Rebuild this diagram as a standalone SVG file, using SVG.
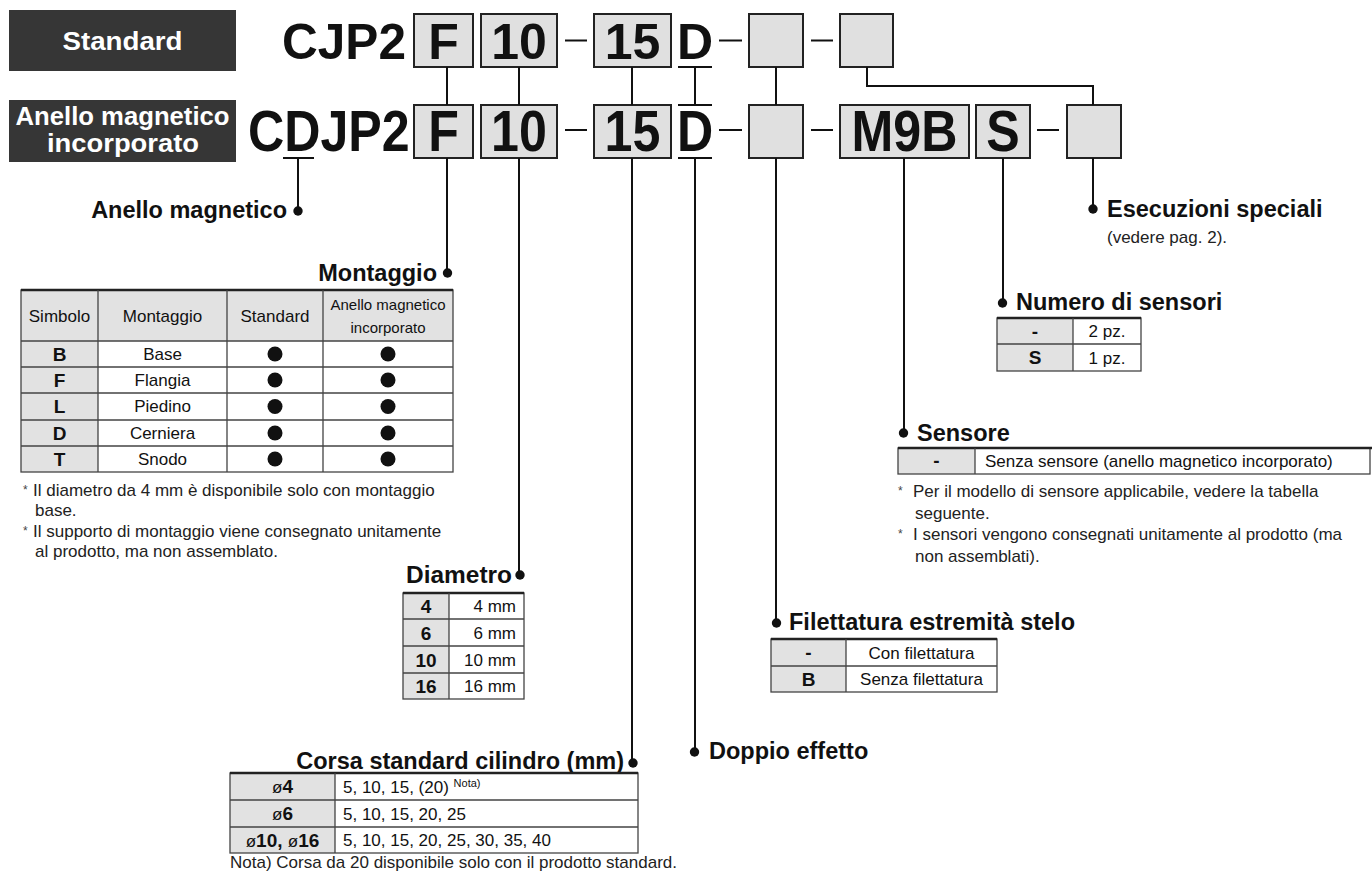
<svg xmlns="http://www.w3.org/2000/svg" width="1372" height="877" viewBox="0 0 1372 877">
<style>
text{font-family:"Liberation Sans",Arial,Helvetica,sans-serif;fill:#111}
.hdr{font-weight:bold;font-size:25px;fill:#fff}
.code{font-weight:bold;font-size:50px}
.code2{font-weight:bold;font-size:57px}
.lbl{font-weight:bold;font-size:23.5px}
.t{font-size:17px}
.ts{font-size:15px}
.b{font-weight:bold;font-size:19px}
.note{font-size:17px;fill:#222}
.ast{font-size:12px;fill:#444}
.box{fill:#e0e0e0;stroke:#222;stroke-width:2}
.dark{fill:#363636}
.ln{stroke:#111;stroke-width:2;fill:none}
.gray{fill:#e2e2e2}
.grid{stroke:#444;stroke-width:1.3;fill:none}
.top{stroke:#222;stroke-width:2.5}
.mid{text-anchor:middle}
.end{text-anchor:end}
</style>

<!-- header badges -->
<g id="badge-standard">
<rect class="dark" x="9" y="10" width="227" height="61"/>
<text class="hdr mid" x="122.5" y="50" textLength="120" lengthAdjust="spacingAndGlyphs">Standard</text>
</g>
<g id="badge-anello">
<rect class="dark" x="9" y="100" width="227" height="62"/>
<text class="hdr mid" x="122.5" y="125" textLength="214" lengthAdjust="spacingAndGlyphs">Anello magnetico</text>
<text class="hdr mid" x="123" y="152" textLength="152" lengthAdjust="spacingAndGlyphs">incorporato</text>
</g>

<!-- top code row -->
<g id="code-standard">
<text class="code" x="282" y="59" textLength="124" lengthAdjust="spacingAndGlyphs">CJP2</text>
<rect class="box" x="414" y="14" width="59" height="53"/>
<text class="code mid" x="443.5" y="59">F</text>
<rect class="box" x="481" y="14" width="76" height="53"/>
<text class="code mid" x="519" y="59">10</text>
<line class="ln" x1="565" y1="40.5" x2="587" y2="40.5" stroke-width="3"/>
<rect class="box" x="594" y="14" width="77" height="53"/>
<text class="code mid" x="632.5" y="59">15</text>
<text class="code mid" x="695" y="59">D</text>
<line class="ln" x1="678" y1="67" x2="712" y2="67"/>
<line class="ln" x1="719" y1="40.5" x2="742" y2="40.5" stroke-width="3"/>
<rect class="box" x="749" y="14" width="54" height="53"/>
<line class="ln" x1="811" y1="40.5" x2="833" y2="40.5" stroke-width="3"/>
<rect class="box" x="840" y="14" width="53" height="53"/>
</g>

<!-- bottom code row -->
<g id="code-anello">
<text class="code2" transform="translate(248,151) scale(0.88,1)">CDJP2</text>
<line class="ln" x1="283" y1="158" x2="314" y2="158"/>
<rect class="box" x="414" y="105" width="59" height="53"/>
<text class="code2 mid" transform="translate(443.5,151) scale(0.88,1)">F</text>
<rect class="box" x="481" y="105" width="76" height="53"/>
<text class="code2 mid" transform="translate(519,151) scale(0.88,1)">10</text>
<line class="ln" x1="565" y1="130" x2="587" y2="130" stroke-width="3"/>
<rect class="box" x="594" y="105" width="77" height="53"/>
<text class="code2 mid" transform="translate(632.5,151) scale(0.88,1)">15</text>
<line class="ln" x1="678" y1="105" x2="712" y2="105"/>
<text class="code2 mid" transform="translate(695,151) scale(0.88,1)">D</text>
<line class="ln" x1="678" y1="158" x2="712" y2="158"/>
<line class="ln" x1="719" y1="130" x2="742" y2="130" stroke-width="3"/>
<rect class="box" x="749" y="105" width="54" height="53"/>
<line class="ln" x1="811" y1="130" x2="833" y2="130" stroke-width="3"/>
<rect class="box" x="840" y="105" width="129" height="53"/>
<text class="code2 mid" transform="translate(904.5,151) scale(0.88,1)">M9B</text>
<rect class="box" x="976" y="105" width="54" height="53"/>
<text class="code2 mid" transform="translate(1003,151) scale(0.88,1)">S</text>
<line class="ln" x1="1037" y1="130" x2="1059" y2="130" stroke-width="3"/>
<rect class="box" x="1067" y="105" width="54" height="53"/>
</g>

<!-- connectors -->
<g id="connectors">
<line class="ln" x1="447" y1="67" x2="447" y2="105"/>
<line class="ln" x1="519" y1="67" x2="519" y2="105"/>
<line class="ln" x1="632" y1="67" x2="632" y2="105"/>
<line class="ln" x1="695" y1="67" x2="695" y2="105"/>
<line class="ln" x1="776" y1="67" x2="776" y2="105"/>
<polyline class="ln" points="867,67 867,86 1093,86 1093,105"/>
<line class="ln" x1="298" y1="158" x2="298" y2="211"/>
<line class="ln" x1="447" y1="158" x2="447" y2="273"/>
<line class="ln" x1="519" y1="158" x2="519" y2="575"/>
<line class="ln" x1="632" y1="158" x2="632" y2="763"/>
<line class="ln" x1="695" y1="158" x2="695" y2="752"/>
<line class="ln" x1="776" y1="158" x2="776" y2="623"/>
<line class="ln" x1="904" y1="158" x2="904" y2="433"/>
<line class="ln" x1="1003" y1="158" x2="1003" y2="303"/>
<line class="ln" x1="1093" y1="158" x2="1093" y2="209"/>
<g fill="#111">
<circle cx="298" cy="211" r="4.7"/>
<circle cx="447.5" cy="273" r="4.7"/>
<circle cx="520" cy="575" r="4.7"/>
<circle cx="633" cy="763" r="4.7"/>
<circle cx="694.5" cy="752" r="4.7"/>
<circle cx="776.5" cy="623" r="4.7"/>
<circle cx="903.5" cy="433" r="4.7"/>
<circle cx="1002.5" cy="303" r="4.7"/>
<circle cx="1093" cy="209" r="4.7"/>
</g>
</g>

<!-- Anello magnetico label -->
<g id="lbl-anello">
<text class="lbl end" x="287" y="218">Anello magnetico</text>
</g>

<!-- Montaggio -->
<g id="montaggio">
<text class="lbl end" x="437" y="281">Montaggio</text>
<rect x="21" y="290" width="432" height="182" fill="#fff"/>
<rect class="gray" x="21" y="290" width="432" height="51"/>
<rect class="gray" x="21" y="341" width="77" height="131"/>
<rect class="grid" x="21" y="290" width="432" height="182"/>
<line class="top" x1="21" y1="290" x2="453" y2="290"/>
<path class="grid" d="M21 341H453M21 367H453M21 393H453M21 420H453M21 446H453M98 290V472M227 290V472M323 290V472"/>
<text class="t mid" x="59.5" y="322">Simbolo</text>
<text class="t mid" x="162.5" y="322">Montaggio</text>
<text class="t mid" x="275" y="322">Standard</text>
<text class="ts mid" x="388" y="310">Anello magnetico</text>
<text class="ts mid" x="388" y="333">incorporato</text>
<text class="b mid" x="59.5" y="361">B</text>
<text class="b mid" x="59.5" y="387">F</text>
<text class="b mid" x="59.5" y="413">L</text>
<text class="b mid" x="59.5" y="440">D</text>
<text class="b mid" x="59.5" y="466">T</text>
<text class="t mid" x="162.5" y="360">Base</text>
<text class="t mid" x="162.5" y="386">Flangia</text>
<text class="t mid" x="162.5" y="412">Piedino</text>
<text class="t mid" x="162.5" y="439">Cerniera</text>
<text class="t mid" x="162.5" y="465">Snodo</text>
<g fill="#111">
<circle cx="275" cy="354" r="7.5"/><circle cx="388" cy="354" r="7.5"/>
<circle cx="275" cy="380" r="7.5"/><circle cx="388" cy="380" r="7.5"/>
<circle cx="275" cy="406.5" r="7.5"/><circle cx="388" cy="406.5" r="7.5"/>
<circle cx="275" cy="433" r="7.5"/><circle cx="388" cy="433" r="7.5"/>
<circle cx="275" cy="459" r="7.5"/><circle cx="388" cy="459" r="7.5"/>
</g>
<text class="ast" x="23" y="494">*</text>
<text class="note" x="33" y="496">Il diametro da 4 mm è disponibile solo con montaggio</text>
<text class="note" x="35" y="516">base.</text>
<text class="ast" x="23" y="535">*</text>
<text class="note" x="33" y="537">Il supporto di montaggio viene consegnato unitamente</text>
<text class="note" x="35" y="557">al prodotto, ma non assemblato.</text>
</g>

<!-- Diametro -->
<g id="diametro">
<text class="lbl end" x="512" y="583" textLength="106" lengthAdjust="spacingAndGlyphs">Diametro</text>
<rect x="403" y="593" width="121" height="106" fill="#fff"/>
<rect class="gray" x="403" y="593" width="46" height="106"/>
<rect class="grid" x="403" y="593" width="121" height="106"/>
<line class="top" x1="403" y1="593" x2="524" y2="593"/>
<path class="grid" d="M403 619H524M403 646H524M403 673H524M449 593V699"/>
<text class="b mid" x="426" y="613">4</text>
<text class="b mid" x="426" y="639.5">6</text>
<text class="b mid" x="426" y="666.5">10</text>
<text class="b mid" x="426" y="693">16</text>
<text class="t end" x="516" y="612">4 mm</text>
<text class="t end" x="516" y="638.5">6 mm</text>
<text class="t end" x="516" y="665.5">10 mm</text>
<text class="t end" x="516" y="692">16 mm</text>
</g>

<!-- Corsa -->
<g id="corsa">
<text class="lbl end" x="624" y="769">Corsa standard cilindro (mm)</text>
<rect x="230" y="773" width="408" height="80" fill="#fff"/>
<rect class="gray" x="230" y="773" width="105" height="80"/>
<rect class="grid" x="230" y="773" width="408" height="80"/>
<line class="top" x1="230" y1="773" x2="638" y2="773"/>
<path class="grid" d="M230 800H638M230 827H638M335 773V853"/>
<text class="mid" x="282.5" y="793"><tspan class="t">ø</tspan><tspan class="b">4</tspan></text>
<text class="mid" x="282.5" y="820"><tspan class="t">ø</tspan><tspan class="b">6</tspan></text>
<text class="mid" x="282.5" y="846.5"><tspan class="t">ø</tspan><tspan class="b">10, </tspan><tspan class="t">ø</tspan><tspan class="b">16</tspan></text>
<text class="t" x="343" y="792.5">5, 10, 15, (20) <tspan font-size="11" dy="-6">Nota)</tspan></text>
<text class="t" x="343" y="819.5">5, 10, 15, 20, 25</text>
<text class="t" x="343" y="846">5, 10, 15, 20, 25, 30, 35, 40</text>
<text class="note" x="230" y="868">Nota) Corsa da 20 disponibile solo con il prodotto standard.</text>
</g>

<!-- Doppio effetto -->
<g id="doppio">
<text class="lbl" x="709" y="759">Doppio effetto</text>
</g>

<!-- Filettatura -->
<g id="filettatura">
<text class="lbl" x="789" y="630">Filettatura estremità stelo</text>
<rect x="771" y="639" width="226" height="53" fill="#fff"/>
<rect class="gray" x="771" y="639" width="75" height="53"/>
<rect class="grid" x="771" y="639" width="226" height="53"/>
<line class="top" x1="771" y1="639" x2="997" y2="639"/>
<path class="grid" d="M771 666H997M846 639V692"/>
<text class="b mid" x="808.5" y="659">-</text>
<text class="b mid" x="808.5" y="686">B</text>
<text class="t mid" x="921.5" y="658.5">Con filettatura</text>
<text class="t mid" x="921.5" y="685">Senza filettatura</text>
</g>

<!-- Sensore -->
<g id="sensore">
<text class="lbl" x="917" y="441">Sensore</text>
<rect x="898" y="448" width="472" height="26" fill="#fff"/>
<rect class="gray" x="898" y="448" width="77" height="26"/>
<rect class="grid" x="898" y="448" width="472" height="26"/>
<line class="top" x1="898" y1="448" x2="1372" y2="448"/>
<path class="grid" d="M975 448V474"/>
<text class="b mid" x="936.5" y="467">-</text>
<text class="t" x="985" y="467">Senza sensore (anello magnetico incorporato)</text>
<text class="ast" x="898" y="495">*</text>
<text class="note" x="913" y="497">Per il modello di sensore applicabile, vedere la tabella</text>
<text class="note" x="915" y="519">seguente.</text>
<text class="ast" x="898" y="538">*</text>
<text class="note" x="913" y="540">I sensori vengono consegnati unitamente al prodotto (ma</text>
<text class="note" x="915" y="562">non assemblati).</text>
</g>

<!-- Numero di sensori -->
<g id="numero">
<text class="lbl" x="1016" y="310">Numero di sensori</text>
<rect x="997" y="318" width="144" height="53" fill="#fff"/>
<rect class="gray" x="997" y="318" width="76" height="53"/>
<rect class="grid" x="997" y="318" width="144" height="53"/>
<line class="top" x1="997" y1="318" x2="1141" y2="318"/>
<path class="grid" d="M997 344H1141M1073 318V371"/>
<text class="b mid" x="1035" y="338">-</text>
<text class="b mid" x="1035" y="364">S</text>
<text class="t mid" x="1107" y="337">2 pz.</text>
<text class="t mid" x="1107" y="363.5">1 pz.</text>
</g>

<!-- Esecuzioni speciali -->
<g id="esecuzioni">
<text class="lbl" x="1107" y="217">Esecuzioni speciali</text>
<text class="note" x="1107" y="243">(vedere pag. 2).</text>
</g>
</svg>
